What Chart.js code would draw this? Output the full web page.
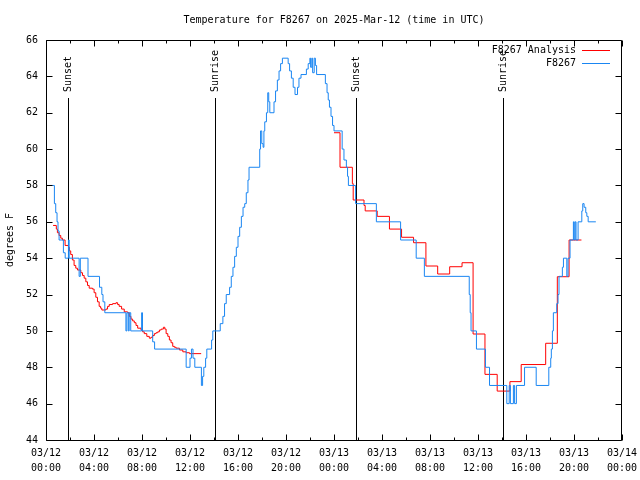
<!DOCTYPE html>
<html>
<head>
<meta charset="utf-8">
<script src="https://cdn.jsdelivr.net/npm/chart.js@4.4.1/dist/chart.umd.min.js"></script>
<style>
  html, body { margin: 0; padding: 0; background: #ffffff; }
  canvas { display: block; }
</style>
</head>
<body>
<canvas id="c" width="640" height="480"></canvas>
<script>
// ---- Data (hours since 03/12 00:00 UTC) ----
const chartTitle = 'Temperature for F8267 on 2025-Mar-12 (time in UTC)';
const yAxisLabel = 'degrees F';

const tickHours = [0, 4, 8, 12, 16, 20, 24, 28, 32, 36, 40, 44, 48];
const tickDates = ['03/12','03/12','03/12','03/12','03/12','03/12','03/13','03/13','03/13','03/13','03/13','03/13','03/14'];
const tickTimes = ['00:00','04:00','08:00','12:00','16:00','20:00','00:00','04:00','08:00','12:00','16:00','20:00','00:00'];

const sunHours  = [1.8, 14.05, 25.87, 38.07];
const sunLabels = ['Sunset', 'Sunrise', 'Sunset', 'Sunrise'];

const obsLabel = 'F8267';
const obsHours = [0, 0.70, 0.81, 0.92, 1.0, 1.09, 1.45, 1.6, 1.87, 1.93, 2.76, 2.86, 3.5, 4.46, 4.65, 4.75, 4.9,
  6.66, 6.74, 6.86, 6.93, 7.06, 7.97, 8.04, 8.89, 9.05, 11.68, 12.0, 12.12, 12.25, 12.4, 12.95, 13.05, 13.15, 13.3,
  13.4, 13.8, 13.9, 14.52, 14.74, 14.88, 15.02, 15.3, 15.44, 15.58, 15.72, 15.86, 16.0, 16.14, 16.28, 16.42, 16.56,
  16.69, 16.83, 16.92, 17.81, 17.88, 17.98, 18.09, 18.16, 18.23, 18.37, 18.48, 18.56, 18.65, 19.0, 19.13, 19.28,
  19.42, 19.55, 19.7, 20.18, 20.3, 20.45, 20.6, 20.75, 20.96, 21.08, 21.25, 21.7, 21.85, 21.99, 22.05, 22.15, 22.22,
  22.35, 22.45, 22.55, 23.28, 23.42, 23.52, 23.62, 23.75, 23.88, 24.0, 24.68, 24.83, 25.03, 25.13, 25.2, 25.8, 27.53,
  29.55, 30.85, 31.53, 35.27, 35.35, 35.42, 35.87, 36.62, 36.96, 38.4, 38.6, 38.7, 38.95, 39.05, 39.2, 39.88, 40.85,
  41.9, 42.06, 42.11, 42.2, 42.28, 42.56, 42.67, 42.75, 43.03, 43.12, 43.4, 43.5, 43.67, 43.95, 44.02, 44.1, 44.17,
  44.34, 44.65, 44.73, 44.84, 44.98, 45.07, 45.18, 45.82];
const obsTemps = [58, 57, 56.5, 56, 55.5, 55, 54.3, 54, 55, 54, 53, 54, 53, 52.4, 52, 51.6, 51,
  50, 51, 50, 51, 50, 51, 50, 49.4, 49, 48, 48.5, 49, 48.5, 48, 47, 47.5, 48, 48.5,
  49, 49.5, 50, 50.4, 50.8, 51.5, 52, 52.4, 53, 53.5, 54.1, 54.6, 55.2, 55.7, 56.3, 56.8, 57,
  57.6, 58.3, 59, 60, 61, 60.3, 60.1, 61, 61.5, 62, 63.1, 62.6, 62, 62.6, 63.2, 63.8,
  64.3, 64.7, 65, 64.7, 64.3, 63.9, 63.4, 63, 63.4, 63.9, 64.1, 64.4, 64.7, 65, 64.5, 65, 64.2,
  65, 64.6, 64.1, 63.6, 63.1, 62.7, 62.3, 61.8, 61.3, 61, 60, 59.4, 59, 58.5, 58, 57, 56,
  55, 54, 53, 52, 51, 50, 49, 48, 47, 46, 47, 46, 47, 46, 47, 48, 47,
  48, 48.5, 49, 50, 51, 51.5, 52, 53, 53.5, 54, 53, 54, 55, 56, 55, 56, 55,
  56, 56.6, 57, 56.8, 56.5, 56.3, 56, 56];

const anaLabel = 'F8267 Analysis';
const anaHours = [0.59, 0.86, 0.95, 1.09, 1.23, 1.37, 1.59, 1.87, 1.95, 2.06, 2.2, 2.34, 2.48, 2.62, 2.9, 3.04, 3.18,
  3.32, 3.46, 3.6, 3.87, 4.01, 4.15, 4.29, 4.43, 4.55, 4.65, 4.99, 5.13, 5.27, 5.55, 5.83, 5.97, 6.1, 6.3, 6.52, 6.8,
  6.94, 7.08, 7.22, 7.36, 7.5, 7.64, 7.92, 8.05, 8.19, 8.4, 8.61, 8.75, 8.89, 9.03, 9.17, 9.31, 9.45, 9.6, 9.78, 9.9,
  10.01, 10.15, 10.28, 10.42, 10.56, 10.7, 10.84, 11.12, 11.4, 11.68, 11.96, 12.93, 18,
  24.0, 24.5, 25.53, 25.6, 26.5, 26.6, 27.6, 28.62, 29.63, 30.63, 31.66, 32.64, 33.64, 34.67, 35.59, 36.58, 37.6,
  38.66, 39.6, 41.64, 42.61, 43.59, 44.62];
const anaTemps = [55.8, 55.6, 55.4, 55.25, 55.1, 55.0, 54.7, 54.6, 54.4, 54.2, 53.9, 53.6, 53.45, 53.35, 53.2, 53.05, 52.9,
  52.7, 52.5, 52.35, 52.3, 52.1, 51.85, 51.6, 51.35, 51.25, 51.15, 51.2, 51.35, 51.45, 51.5, 51.55, 51.45, 51.35, 51.2, 51.05, 51.0,
  50.8, 50.65, 50.55, 50.45, 50.3, 50.15, 50.05, 49.95, 49.85, 49.7, 49.6, 49.65, 49.75, 49.85, 49.9, 49.95, 50.05, 50.1, 50.2, 50.1,
  49.85, 49.7, 49.5, 49.35, 49.15, 49.1, 49.05, 48.95, 48.85, 48.8, 48.75, 48.75, null,
  60.9, 59.0, 58.1, 57.2, 56.9, 56.6, 56.3, 55.6, 55.15, 54.85, 53.57, 53.13, 53.53, 53.75, 49.83, 47.61, 46.69,
  47.21, 48.15, 49.32, 52.98, 55.0, 55.0];

const yMin = 44, yMax = 66, yStep = 2;
const xMin = 0, xMax = 48;

// ---- Chart ----
const FONT_FAMILY = '"DejaVu Sans Mono", "Liberation Mono", monospace';
const FONT_PX = 10;
const FONT = FONT_PX + 'px ' + FONT_FAMILY;

const toPoints = (xs, ys) => xs.map((x, i) => ({ x: x, y: ys[i] }));

const sunPlugin = {
  id: 'sunLines',
  beforeDatasetsDraw(chart) {
    const { ctx, chartArea: a, scales: { x } } = chart;
    ctx.save();
    ctx.strokeStyle = '#000';
    ctx.lineWidth = 1;
    ctx.fillStyle = '#000';
    ctx.font = FONT;
    sunHours.forEach((h, i) => {
      const px = Math.round(x.getPixelForValue(h)) + 0.5;
      ctx.beginPath();
      ctx.moveTo(px, a.top + 58);
      ctx.lineTo(px, a.bottom);
      ctx.stroke();
      ctx.save();
      ctx.translate(px, a.top + 52);
      ctx.rotate(-Math.PI / 2);
      ctx.textAlign = 'left';
      ctx.textBaseline = 'middle';
      ctx.fillText(sunLabels[i], 0, 0);
      ctx.restore();
    });
    ctx.restore();
  }
};

const framePlugin = {
  id: 'frameTicks',
  afterDatasetsDraw(chart) {
    const { ctx, chartArea: a, scales: { x, y } } = chart;
    const L = Math.round(a.left) + 0.5, R = Math.round(a.right) - 0.5;
    const T = Math.round(a.top) + 0.5, B = Math.round(a.bottom) + 0.5;
    ctx.save();
    ctx.strokeStyle = '#000';
    ctx.lineWidth = 1;
    ctx.beginPath();
    ctx.rect(L, T, R - L, B - T);
    ctx.stroke();
    ctx.beginPath();
    for (let h = xMin; h <= xMax; h += 2) {
      const px = Math.round(x.getPixelForValue(h)) + 0.5;
      const len = tickHours.includes(h) ? 6 : 3;
      ctx.moveTo(px, B); ctx.lineTo(px, B - len);
      ctx.moveTo(px, T); ctx.lineTo(px, T + len);
    }
    for (let v = yMin; v <= yMax; v += yStep) {
      const py = Math.round(y.getPixelForValue(v)) + 0.5;
      ctx.moveTo(L, py); ctx.lineTo(L + 6, py);
      ctx.moveTo(R, py); ctx.lineTo(R - 6, py);
    }
    ctx.stroke();
    ctx.restore();
  }
};

const legendOrder = [1, 0];
const legendPlugin = {
  id: 'gpLegend',
  afterDraw(chart) {
    const { ctx, chartArea: a } = chart;
    ctx.save();
    ctx.font = FONT;
    ctx.textAlign = 'right';
    ctx.textBaseline = 'middle';
    legendOrder.forEach((di, i) => {
      const ds = chart.data.datasets[di];
      const yy = Math.round(a.top + 10 + i * 13);
      ctx.fillStyle = '#000';
      ctx.fillText(ds.label, a.right - 46, yy);
      ctx.strokeStyle = ds.borderColor;
      ctx.lineWidth = 1;
      ctx.beginPath();
      ctx.moveTo(a.right - 40, yy + 0.5);
      ctx.lineTo(a.right - 12, yy + 0.5);
      ctx.stroke();
    });
    ctx.restore();
  }
};

new Chart(document.getElementById('c'), {
  type: 'line',
  data: {
    datasets: [
      {
        label: obsLabel,
        data: toPoints(obsHours, obsTemps),
        borderColor: '#1a86f2',
        backgroundColor: '#1a86f2',
        borderWidth: 1,
        pointRadius: 0,
        stepped: 'before',
        fill: false,
        order: 0
      },
      {
        label: anaLabel,
        data: toPoints(anaHours, anaTemps),
        borderColor: '#ff0000',
        backgroundColor: '#ff0000',
        borderWidth: 1,
        pointRadius: 0,
        stepped: 'before',
        spanGaps: false,
        fill: false,
        order: 1
      }
    ]
  },
  options: {
    responsive: false,
    animation: false,
    layout: { padding: { left: 0, right: 18, top: 0, bottom: 0 } },
    plugins: {
      legend: { display: false },
      tooltip: { enabled: false },
      title: {
        display: true,
        text: chartTitle,
        fullSize: false,
        color: '#000',
        font: { family: FONT_FAMILY, size: FONT_PX, weight: 'normal' },
        padding: { top: 14, bottom: 14 }
      }
    },
    scales: {
      x: {
        type: 'linear',
        min: xMin,
        max: xMax,
        grid: { display: false, drawTicks: true, tickLength: 6 },
        border: { display: false },
        ticks: {
          stepSize: 4,
          autoSkip: false,
          maxRotation: 0,
          padding: 0,
          color: '#000',
          font: { family: FONT_FAMILY, size: FONT_PX, lineHeight: 1.5 },
          callback: (v) => {
            const i = tickHours.indexOf(v);
            return i >= 0 ? [tickDates[i], tickTimes[i]] : '';
          }
        },
        afterFit: (s) => { s.height = 40; }
      },
      y: {
        min: yMin,
        max: yMax,
        grid: { display: false, drawTicks: true, tickLength: 8 },
        border: { display: false },
        ticks: {
          stepSize: yStep,
          padding: 0,
          color: '#000',
          font: { family: FONT_FAMILY, size: FONT_PX }
        },
        title: {
          display: true,
          text: yAxisLabel,
          color: '#000',
          font: { family: FONT_FAMILY, size: FONT_PX },
          padding: { top: 4, bottom: 0 }
        },
        afterFit: (s) => { s.width = 46; }
      }
    }
  },
  plugins: [sunPlugin, framePlugin, legendPlugin]
});
</script>
</body>
</html>
